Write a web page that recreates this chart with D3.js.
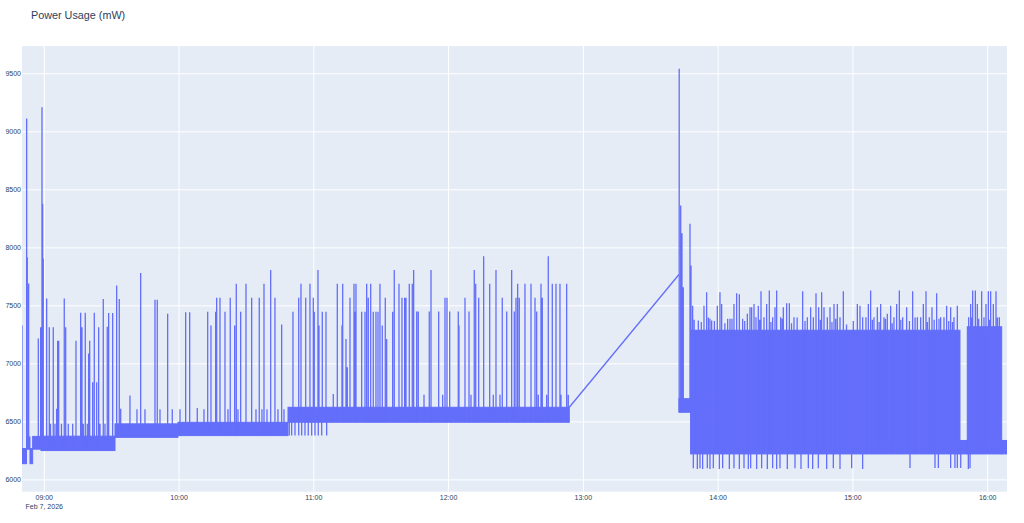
<!DOCTYPE html>
<html>
<head>
<meta charset="utf-8">
<script src="https://cdn.jsdelivr.net/npm/d3@7"></script>
<style>
  body { margin: 0; background: #fff; }
  text { font-family: Arial, "Liberation Sans", sans-serif; fill: #2a3f5f; }
</style>
</head>
<body>
<div id="chart"></div>
<script>
const day = '2026-02-07';

// stretches where the reading flickers quickly between two levels
const bandStart = ['08:50:05', '08:52:05', '08:53:38', '08:54:50', '08:58:32', '09:31:29', '09:59:31', '10:48:30',
  '13:42:34', '13:47:47', '15:47:40', '15:50:55', '16:06:14'];
const bandEnd = ['08:52:05', '08:53:38', '08:54:50', '08:58:32', '09:31:29', '09:59:31', '10:48:30', '12:53:44',
  '13:47:47', '15:47:40', '15:50:55', '16:06:14', '16:08:36'];
const bandLow = [6140, 6265, 6140, 6265, 6253, 6367, 6382, 6497, 6583, 6224, 6224, 6224, 6224];
const bandHigh = [6270, 6370, 6270, 6375, 6377, 6483, 6497, 6626, 6700, 7290, 6340, 7320, 6340];

// readings that stick out above the band
const peakTimes = [
  '08:50:05', '08:52:10', '08:52:26', '08:53:03', '08:57:20', '08:58:24', '08:58:59', '08:59:17', '08:59:33',
  '09:01:04', '09:02:14', '09:02:46', '09:04:00', '09:04:46', '09:05:31', '09:05:58', '09:06:25', '09:07:39',
  '09:08:54', '09:09:32', '09:10:41', '09:12:39', '09:14:07', '09:16:12', '09:16:47', '09:17:22', '09:18:15',
  '09:19:09', '09:19:46', '09:20:13', '09:21:33', '09:22:16', '09:23:20', '09:24:13', '09:24:48', '09:26:16',
  '09:27:01', '09:28:03', '09:28:40', '09:30:27', '09:32:14', '09:33:23', '09:34:01', '09:38:09', '09:41:16',
  '09:42:55', '09:44:50', '09:49:17', '09:50:18', '09:51:31', '09:54:56', '09:56:59', '10:00:25', '10:02:57',
  '10:04:44', '10:08:07', '10:11:06', '10:12:45', '10:14:13', '10:16:18', '10:16:45', '10:18:13', '10:20:27',
  '10:21:47', '10:22:48', '10:24:46', '10:25:29', '10:26:14', '10:27:26', '10:29:48', '10:32:20', '10:34:15',
  '10:35:43', '10:36:55', '10:37:49', '10:39:09', '10:40:48', '10:42:42', '10:44:02', '10:45:41', '10:46:43',
  '10:50:43', '10:53:16', '10:54:17', '10:56:23', '10:58:17', '10:59:46', '11:00:12', '11:01:51', '11:02:18',
  '11:03:46', '11:05:25', '11:08:40', '11:10:27', '11:12:32', '11:12:51', '11:14:19', '11:14:54', '11:16:06',
  '11:17:53', '11:18:27', '11:18:46', '11:21:18', '11:22:47', '11:23:32', '11:24:15', '11:25:19', '11:26:28',
  '11:27:40', '11:28:34', '11:29:27', '11:30:29', '11:31:49', '11:32:26', '11:35:06', '11:35:49', '11:37:55',
  '11:39:15', '11:40:27', '11:41:02', '11:42:30', '11:43:50', '11:44:27', '11:45:48', '11:46:30', '11:49:03',
  '11:51:24', '11:52:10', '11:55:35', '11:57:22', '11:58:24', '11:59:17', '12:00:29', '12:04:19', '12:04:37',
  '12:07:18', '12:09:05', '12:09:58', '12:11:26', '12:12:04', '12:13:24', '12:15:37', '12:18:18', '12:19:54',
  '12:21:06', '12:22:53', '12:23:54', '12:25:52', '12:28:05', '12:29:15', '12:30:00', '12:30:45', '12:31:28',
  '12:34:00', '12:36:41', '12:38:28', '12:39:13', '12:39:56', '12:41:08', '12:41:43', '12:43:40', '12:44:23',
  '12:46:10', '12:47:49', '12:49:35', '12:50:02', '12:52:34', '12:53:17',
  '13:42:40', '13:43:20', '13:43:54', '13:44:29', '13:47:28', '13:47:55',
  '13:48:39', '13:50:08', '13:51:11', '13:53:42', '13:54:53', '13:56:22', '13:57:07', '13:59:38', '14:00:49',
  '14:01:34', '14:04:14', '14:05:17', '14:07:03', '14:08:15', '14:09:26', '14:10:55', '14:13:00', '14:14:11',
  '14:14:55', '14:15:58', '14:16:51', '14:17:53', '14:19:05', '14:20:25', '14:21:36', '14:22:47', '14:24:16',
  '14:25:19', '14:26:03', '14:27:50', '14:29:01', '14:30:30', '14:31:42', '14:33:46', '14:36:26', '14:37:38',
  '14:39:42', '14:41:11', '14:42:23', '14:43:34', '14:44:45', '14:46:05', '14:47:08', '14:48:37', '14:49:48',
  '14:51:35', '14:53:04', '14:54:15', '14:55:44', '15:01:58', '15:03:09', '15:04:20', '15:05:49', '15:06:52',
  '15:07:54', '15:09:23', '15:10:52', '15:12:21', '15:13:50', '15:15:19', '15:16:48', '15:18:17', '15:19:29',
  '15:20:40', '15:22:09', '15:23:56', '15:26:36', '15:28:41', '15:30:10', '15:31:21', '15:32:32', '15:34:01',
  '15:35:12', '15:37:17', '15:39:04', '15:40:33', '15:41:44', '15:43:31', '15:45:00', '15:46:29', '15:51:32',
  '15:52:25', '15:53:19', '15:54:30', '15:55:23', '15:57:19', '15:58:21', '15:59:15', '16:00:17', '16:01:20',
  '16:02:31', '16:03:42', '16:05:11',
  '13:49:20', '13:52:30', '13:55:40', '13:58:20', '14:03:00', '14:06:10', '14:11:50', '14:18:30', '14:23:30',
  '14:28:30', '14:32:40', '14:35:10', '14:38:40', '14:45:30', '14:50:40', '14:52:20', '14:57:10', '15:00:10',
  '15:08:40', '15:11:40', '15:14:30', '15:17:30', '15:21:20', '15:25:10', '15:27:40', '15:33:10', '15:36:10',
  '15:38:20', '15:42:40', '15:44:20', '15:52:50', '15:56:00', '16:00:50', '16:04:20'];
const peakValues = [
  7330, 9114, 7919, 7692, 7218, 7316, 9212, 8379, 7908,
  7563, 7316, 6485, 7316, 6485, 6614, 7200, 7200, 6485,
  7563, 7316, 6485, 6485, 7200, 7440, 7316, 6485, 7440,
  6485, 7089, 7200, 6841, 7440, 6841, 7316, 6485, 7560,
  6485, 7321, 7439, 7439, 7675, 7560, 6614, 6727, 6610,
  7784, 6610, 7552, 7552, 6610, 7431, 6610, 6610, 7445,
  7445, 6620, 6610, 7450, 7330, 7450, 7571, 7571, 7450,
  6610, 7571, 7330, 7690, 6610, 7450, 7690, 7571, 6610,
  7571, 6610, 7690, 6610, 7810, 7571, 6610, 7339, 6610,
  7450, 7571, 7690, 7571, 7690, 7571, 7450, 7810, 7330,
  7450, 7450, 6741, 7690, 7330, 7690, 7215, 6971, 7571,
  7690, 7450, 7690, 7450, 7450, 7690, 7571, 7690, 7450,
  7450, 7450, 7690, 7330, 7571, 7215, 7450, 7810, 7690,
  7571, 7571, 7569, 7690, 7690, 7810, 7451, 7451, 6735,
  7451, 7810, 7451, 6735, 7569, 7569, 7451, 7451, 7330,
  7569, 7451, 6735, 7810, 7690, 7569, 7927, 7690, 6735,
  7810, 6735, 7569, 7451, 7810, 7451, 7569, 7690, 7569,
  7690, 7690, 7569, 7451, 6735, 7690, 7569, 6735, 7927,
  7690, 7690, 7690, 6735, 7690, 6735,
  9543, 8364, 8126, 7660, 8207, 7847,
  7502, 7259, 7373, 7502, 7617, 7388, 7373, 7502, 7617,
  7517, 7388, 7388, 7517, 7608, 7600, 7388, 7431, 7488,
  7488, 7517, 7402, 7502, 7626, 7402, 7517, 7632, 7402,
  7488, 7632, 7402, 7488, 7522, 7522, 7402, 7272, 7626,
  7402, 7488, 7402, 7608, 7488, 7617, 7488, 7402, 7488,
  7517, 7517, 7402, 7626, 7517, 7502, 7402, 7402, 7517,
  7632, 7402, 7488, 7517, 7402, 7431, 7502, 7402, 7517,
  7632, 7402, 7488, 7626, 7402, 7402, 7517, 7626, 7402,
  7488, 7608, 7402, 7402, 7502, 7488, 7402, 7502, 7402,
  7517, 7632, 7632, 7517, 7626, 7402, 7517, 7626, 7626,
  7517, 7626, 7402,
  7380, 7360, 7400, 7370, 7350, 7390, 7370, 7380, 7360,
  7390, 7350, 7400, 7370, 7380, 7360, 7390, 7340, 7370,
  7380, 7360, 7390, 7350, 7380, 7370, 7400, 7360, 7380,
  7390, 7370, 7360, 7400, 7390, 7380, 7400];

// readings that drop below the band
const dipTimes = [
  '10:49:04', '10:50:08', '10:51:37', '10:53:16', '10:54:36', '10:56:04', '10:57:32', '10:59:03', '11:00:31',
  '11:01:59', '11:03:30', '11:05:43',
  '13:48:57', '13:50:44', '13:51:55', '13:53:06', '13:55:11', '13:56:22', '13:57:51', '14:00:32', '14:02:01',
  '14:04:59', '14:07:03', '14:09:26', '14:11:31', '14:13:26', '14:14:29', '14:17:09', '14:19:22', '14:21:54',
  '14:24:16', '14:26:03', '14:27:32', '14:30:48', '14:34:13', '14:36:53', '14:40:09', '14:42:05', '14:44:36',
  '14:48:19', '14:51:17', '14:54:15', '14:59:27', '15:04:20', '15:25:25', '15:36:33', '15:38:02', '15:43:31',
  '15:45:25', '15:46:29', '15:48:00', '15:51:23', '15:52:08'];
const dipValues = [
  6382, 6382, 6382, 6382, 6382, 6382, 6382, 6382, 6382,
  6382, 6382, 6382,
  6100, 6095, 6100, 6095, 6100, 6095, 6100, 6095, 6100,
  6095, 6100, 6095, 6100, 6095, 6100, 6095, 6100, 6095,
  6100, 6095, 6100, 6095, 6100, 6095, 6100, 6095, 6100,
  6095, 6100, 6095, 6100, 6095, 6103, 6103, 6103, 6103,
  6103, 6103, 6103, 6095, 6100];

// the two readings either side of the logging gap
const gapTimes = ['12:53:44', '13:42:34'];
const gapValues = [6626, 7770];

const yTicks = [6000, 6500, 7000, 7500, 8000, 8500, 9000, 9500];
const xTicks = ['09:00', '10:00', '11:00', '12:00', '13:00', '14:00', '15:00', '16:00'];

const width = 1024, height = 523;
const margin = {top: 46, right: 17, bottom: 31.3, left: 22};
const plotW = width - margin.left - margin.right;
const plotH = height - margin.top - margin.bottom;
const lineColor = '#636efa';

const parseT = s => d3.timeParse('%Y-%m-%d %H:%M:%S')(day + ' ' + s);
const parseHM = s => d3.timeParse('%Y-%m-%d %H:%M')(day + ' ' + s);

const bands = bandStart.map((s, i) => ({
  start: parseT(s), end: parseT(bandEnd[i]), low: bandLow[i], high: bandHigh[i]
}));
const peaks = peakTimes.map((t, i) => ({time: parseT(t), value: peakValues[i]}));
const dips = dipTimes.map((t, i) => ({time: parseT(t), value: dipValues[i]}));
const gap = gapTimes.map((t, i) => ({time: parseT(t), value: gapValues[i]}));

function bandAt(t) {
  let b = bands.find(d => t >= d.start && t <= d.end);
  if (!b) b = d3.least(bands, d => Math.min(Math.abs(t - d.start), Math.abs(t - d.end)));
  return b;
}

const allValues = [].concat(bandLow, bandHigh, peakValues, dipValues, gapValues);
const vMin = d3.min(allValues), vMax = d3.max(allValues);
const pad = (vMax - vMin) * 0.057;

let x = d3.scaleTime()
  .domain([d3.min(bands, d => d.start), d3.max(bands, d => d.end)])
  .range([0, plotW]);
let y = d3.scaleLinear()
  .domain([vMin - pad, vMax + pad])
  .range([plotH, 0]);

let svg = d3.select('#chart').append('svg')
  .attr('width', width)
  .attr('height', height);

svg.append('text')
  .attr('x', 31)
  .attr('y', 18.5)
  .style('font-size', '10.8px')
  .text('Power Usage (mW)');

let g = svg.append('g')
  .attr('transform', `translate(${margin.left}, ${margin.top})`);

g.append('rect')
  .attr('width', plotW)
  .attr('height', plotH)
  .attr('fill', '#e5ecf6');

g.append('clipPath').attr('id', 'clip')
  .append('rect').attr('width', plotW).attr('height', plotH);

// grid
g.selectAll('.ygrid')
  .data(yTicks)
  .enter().append('line')
    .attr('class', 'ygrid')
    .attr('x1', 0).attr('x2', plotW)
    .attr('y1', d => y(d)).attr('y2', d => y(d))
    .attr('stroke', '#fff').attr('stroke-width', 1);

g.selectAll('.xgrid')
  .data(xTicks.map(parseHM))
  .enter().append('line')
    .attr('class', 'xgrid')
    .attr('x1', d => x(d)).attr('x2', d => x(d))
    .attr('y1', 0).attr('y2', plotH)
    .attr('stroke', '#fff').attr('stroke-width', 1);

let plot = g.append('g').attr('clip-path', 'url(#clip)');

// flicker bands
plot.selectAll('.band')
  .data(bands)
  .enter().append('rect')
    .attr('class', 'band')
    .attr('x', d => x(d.start))
    .attr('width', d => x(d.end) - x(d.start))
    .attr('y', d => y(d.high))
    .attr('height', d => y(d.low) - y(d.high))
    .attr('fill', lineColor)
    .attr('stroke', lineColor)
    .attr('stroke-width', 1);

// spikes up and down from the band
let spikePath = '';
peaks.forEach(d => {
  const b = bandAt(d.time);
  spikePath += `M${x(d.time)},${y(b.low)}V${y(d.value)}`;
});
dips.forEach(d => {
  const b = bandAt(d.time);
  spikePath += `M${x(d.time)},${y(b.high)}V${y(d.value)}`;
});
plot.append('path')
  .attr('d', spikePath)
  .attr('fill', 'none')
  .attr('stroke', lineColor)
  .attr('stroke-width', 1.3);

let gapLine = d3.line()
  .x(d => x(d.time))
  .y(d => y(d.value));
plot.append('path')
  .datum(gap)
  .attr('d', gapLine)
  .attr('fill', 'none')
  .attr('stroke', lineColor)
  .attr('stroke-width', 1.3);

// tick labels
g.selectAll('.ylab')
  .data(yTicks)
  .enter().append('text')
    .attr('class', 'ylab')
    .attr('x', -1)
    .attr('y', d => y(d))
    .attr('dy', '0.35em')
    .attr('text-anchor', 'end')
    .style('font-size', '7px')
    .text(d => d);

let fmtHM = d3.timeFormat('%H:%M');
let fmtDay = d3.timeFormat('%b %-d, %Y');
let xl = g.selectAll('.xlab')
  .data(xTicks.map(parseHM))
  .enter().append('text')
    .attr('class', 'xlab')
    .attr('x', d => x(d))
    .attr('y', plotH + 7.8)
    .attr('text-anchor', 'middle')
    .style('font-size', '7px');
xl.append('tspan').text(d => fmtHM(d));
xl.filter((d, i) => i == 0)
  .append('tspan')
    .attr('x', d => x(d))
    .attr('dy', 9)
    .text(d => fmtDay(d));
</script>
</body>
</html>
